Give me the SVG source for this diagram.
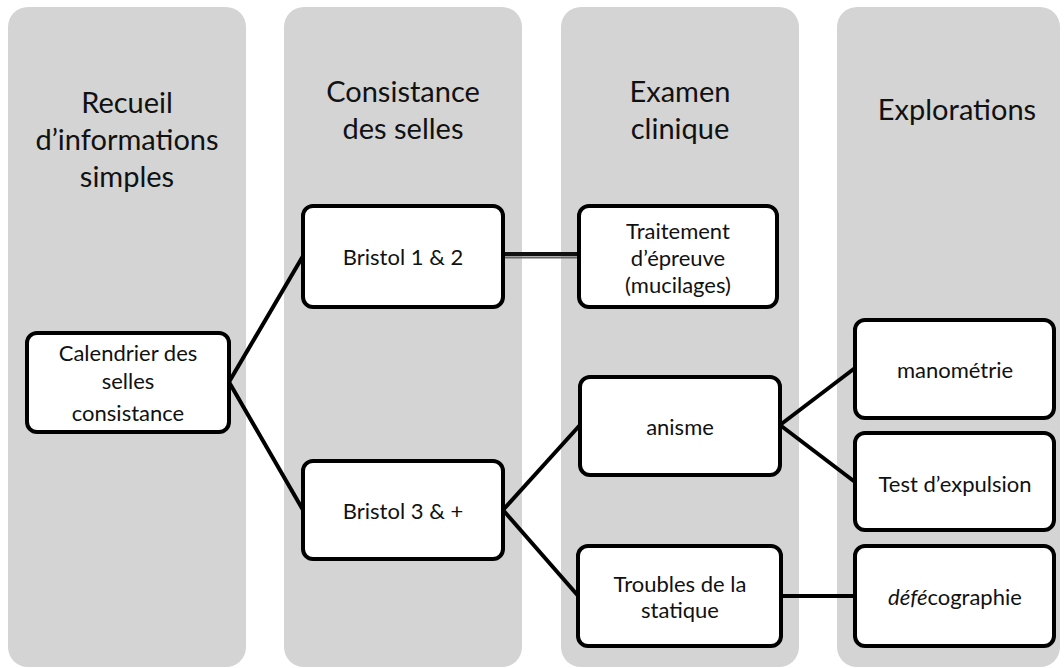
<svg xmlns="http://www.w3.org/2000/svg" width="1064" height="668" viewBox="0 0 1064 668">
<style>
.col{fill:#d4d4d4}
.node{fill:#fff;stroke:#000;stroke-width:4}
.h{font-family:Lato,"Open Sans","Liberation Sans",sans-serif;font-size:29px;fill:#111;text-anchor:middle}
.t{font-family:Lato,"Open Sans","Liberation Sans",sans-serif;font-size:22px;fill:#111;text-anchor:middle}
.c{stroke:#000;stroke-width:4;fill:none}
</style>
<rect width="1064" height="668" fill="#fff"/>
<g id="columns">
<rect class="col" x="8" y="7" width="238" height="660" rx="20"/>
<rect class="col" x="284" y="7" width="238" height="660" rx="20"/>
<rect class="col" x="561" y="7" width="238" height="660" rx="20"/>
<rect class="col" x="837" y="7" width="223" height="660" rx="20"/>
<text class="h" x="127" y="113">Recueil</text>
<text class="h" x="127" y="150">d’informations</text>
<text class="h" x="127" y="187">simples</text>
<text class="h" x="403" y="102">Consistance</text>
<text class="h" x="403" y="139">des selles</text>
<text class="h" x="680" y="102">Examen</text>
<text class="h" x="680" y="139">clinique</text>
<text class="h" x="957" y="120">Explorations</text>
</g>
<g id="connectors">
<line class="c" x1="229" y1="382" x2="303" y2="256"/>
<line class="c" x1="229" y1="382" x2="303" y2="510"/>
<line x1="503" y1="254" x2="579" y2="254" stroke="#111" stroke-width="4"/>
<line x1="503" y1="257.5" x2="579" y2="257.5" stroke="#666" stroke-width="2"/>
<line class="c" x1="503" y1="510" x2="580" y2="425"/>
<line class="c" x1="503" y1="510" x2="580" y2="598"/>
<line class="c" x1="780" y1="425" x2="855" y2="368"/>
<line class="c" x1="780" y1="425" x2="855" y2="482"/>
<line class="c" x1="781" y1="596" x2="855" y2="596"/>
</g>
<g id="n-calendrier">
<rect class="node" x="27" y="333" width="202" height="99" rx="10"/>
<text class="t" x="128" y="361">Calendrier des</text>
<text class="t" x="128" y="389">selles</text>
<text class="t" x="128" y="421">consistance</text>
</g>
<g id="n-bristol12">
<rect class="node" x="303" y="206" width="200" height="101" rx="10"/>
<text class="t" x="403" y="265">Bristol 1 &amp; 2</text>
</g>
<g id="n-traitement">
<rect class="node" x="579" y="206" width="198" height="101" rx="10"/>
<text class="t" x="678" y="239">Traitement</text>
<text class="t" x="678" y="266">d’épreuve</text>
<text class="t" x="678" y="293">(mucilages)</text>
</g>
<g id="n-bristol3">
<rect class="node" x="303" y="461" width="200" height="98" rx="10"/>
<text class="t" x="403" y="519">Bristol 3 &amp; +</text>
</g>
<g id="n-anisme">
<rect class="node" x="580" y="377" width="200" height="98" rx="10"/>
<text class="t" x="680" y="435">anisme</text>
</g>
<g id="n-troubles">
<rect class="node" x="578" y="546" width="203" height="100" rx="10"/>
<text class="t" x="680" y="592">Troubles de la</text>
<text class="t" x="680" y="618">statique</text>
</g>
<g id="n-manometrie">
<rect class="node" x="855" y="320" width="199" height="98" rx="10"/>
<text class="t" x="955" y="378">manométrie</text>
</g>
<g id="n-expulsion">
<rect class="node" x="855" y="433" width="199" height="97" rx="10"/>
<text class="t" x="955" y="492">Test d’expulsion</text>
</g>
<g id="n-defecographie">
<rect class="node" x="855" y="546" width="199" height="100" rx="10"/>
<text class="t" x="955" y="605"><tspan font-style="italic">défé</tspan>cographie</text>
</g>
</svg>
